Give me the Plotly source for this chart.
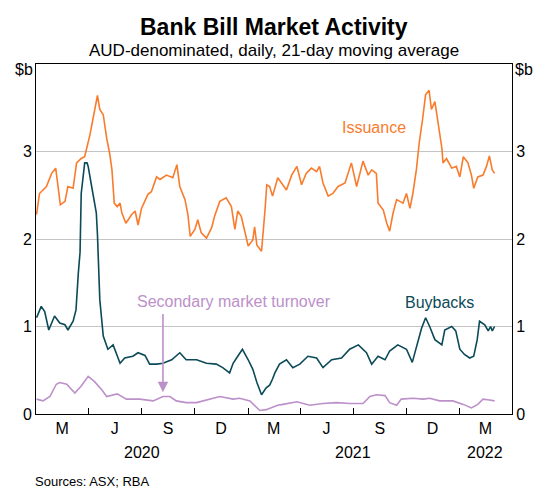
import plotly.graph_objects as go

# ---------------- data ----------------
issuance_dates = [
    "2020-01-02", "2020-01-07", "2020-01-19", "2020-01-28", "2020-02-04", "2020-02-08", "2020-02-12",
    "2020-02-20", "2020-02-25", "2020-03-05", "2020-03-11", "2020-03-19", "2020-03-25", "2020-04-03",
    "2020-04-08", "2020-04-16", "2020-04-20", "2020-04-26", "2020-05-02", "2020-05-07", "2020-05-11",
    "2020-05-15", "2020-05-20", "2020-05-25", "2020-05-28", "2020-06-04", "2020-06-14", "2020-06-20",
    "2020-06-25", "2020-07-01", "2020-07-12", "2020-07-18", "2020-07-27", "2020-08-02", "2020-08-13",
    "2020-08-24", "2020-08-31", "2020-09-05", "2020-09-14", "2020-09-19", "2020-09-23", "2020-10-01",
    "2020-10-06", "2020-10-12", "2020-10-21", "2020-10-30", "2020-11-04", "2020-11-13", "2020-11-24",
    "2020-12-03", "2020-12-09", "2020-12-14", "2020-12-20", "2021-01-01", "2021-01-09", "2021-01-12",
    "2021-01-16", "2021-01-24", "2021-01-30", "2021-02-02", "2021-02-07", "2021-02-12", "2021-02-21",
    "2021-03-08", "2021-03-17", "2021-03-26", "2021-04-03", "2021-04-11", "2021-04-20", "2021-04-29",
    "2021-05-04", "2021-05-10", "2021-05-19", "2021-05-27", "2021-06-05", "2021-06-17", "2021-06-28",
    "2021-07-07", "2021-07-18", "2021-07-27", "2021-08-02", "2021-08-10", "2021-08-13", "2021-08-22",
    "2021-08-28", "2021-09-02", "2021-09-08", "2021-09-14", "2021-09-25", "2021-10-01", "2021-10-07",
    "2021-10-12", "2021-10-18", "2021-10-23", "2021-10-29", "2021-11-03", "2021-11-09", "2021-11-13",
    "2021-11-19", "2021-11-25", "2021-12-01", "2021-12-03", "2021-12-09", "2021-12-18", "2021-12-26",
    "2022-01-01", "2022-01-07", "2022-01-15", "2022-01-21", "2022-01-25", "2022-02-01", "2022-02-10",
    "2022-02-16", "2022-02-21", "2022-02-26", "2022-03-02",
]
issuance_values = [
    2.28, 2.52, 2.60, 2.75, 2.81, 2.56, 2.39,
    2.43, 2.60, 2.58, 2.87, 2.92, 2.94, 3.19,
    3.36, 3.64, 3.48, 3.42, 3.15, 2.98, 2.79,
    2.41, 2.37, 2.41, 2.30, 2.18, 2.28, 2.32,
    2.16, 2.35, 2.51, 2.54, 2.71, 2.68, 2.73,
    2.70, 2.85, 2.60, 2.45, 2.28, 2.03, 2.11,
    2.22, 2.07, 2.01, 2.13, 2.26, 2.43, 2.47,
    2.37, 2.11, 2.32, 2.26, 1.92, 1.99, 2.14,
    1.93, 1.86, 2.33, 2.62, 2.60, 2.49, 2.70,
    2.56, 2.73, 2.83, 2.62, 2.75, 2.81, 2.77,
    2.83, 2.64, 2.49, 2.52, 2.60, 2.64, 2.87,
    2.60, 2.89, 2.73, 2.79, 2.75, 2.41, 2.33,
    2.18, 2.09, 2.30, 2.45, 2.41, 2.52, 2.35,
    2.52, 2.79, 3.10, 3.38, 3.65, 3.70, 3.48,
    3.57, 3.32, 3.04, 2.87, 2.92, 2.81, 2.83,
    2.71, 2.94, 2.87, 2.73, 2.58, 2.71, 2.73,
    2.83, 2.95, 2.79, 2.75,
]

buyback_dates = [
    "2020-01-02", "2020-01-10", "2020-01-16", "2020-01-23", "2020-02-02", "2020-02-11", "2020-02-20",
    "2020-02-25", "2020-03-05", "2020-03-10", "2020-03-14", "2020-03-17", "2020-03-19", "2020-03-25",
    "2020-03-29", "2020-03-31", "2020-04-06", "2020-04-14", "2020-04-16", "2020-04-18", "2020-04-20",
    "2020-04-26", "2020-05-04", "2020-05-13", "2020-05-20", "2020-05-25", "2020-06-02", "2020-06-16",
    "2020-06-25", "2020-07-07", "2020-07-15", "2020-07-27", "2020-08-07", "2020-08-22", "2020-09-05",
    "2020-09-16", "2020-10-04", "2020-10-21", "2020-11-07", "2020-11-18", "2020-11-30", "2020-12-06",
    "2020-12-14", "2020-12-22", "2021-01-01", "2021-01-09", "2021-01-16", "2021-01-24", "2021-02-01",
    "2021-02-07", "2021-02-12", "2021-02-16", "2021-02-24", "2021-03-08", "2021-03-19", "2021-03-31",
    "2021-04-14", "2021-04-29", "2021-05-10", "2021-05-25", "2021-06-11", "2021-06-25", "2021-07-10",
    "2021-07-24", "2021-08-02", "2021-08-13", "2021-08-25", "2021-09-02", "2021-09-16", "2021-10-01",
    "2021-10-11", "2021-10-18", "2021-10-27", "2021-11-03", "2021-11-10", "2021-11-19", "2021-12-01",
    "2021-12-06", "2021-12-18", "2021-12-25", "2022-01-01", "2022-01-09", "2022-01-18", "2022-01-25",
    "2022-01-31", "2022-02-04", "2022-02-13", "2022-02-19", "2022-02-23", "2022-02-26", "2022-03-02",
]
buyback_values = [
    1.10, 1.23, 1.17, 0.96, 1.12, 1.04, 1.02,
    0.96, 1.06, 1.19, 1.61, 1.85, 2.52, 2.87,
    2.87, 2.83, 2.60, 2.30, 2.05, 1.55, 1.31,
    0.89, 0.74, 0.79, 0.66, 0.58, 0.64, 0.66,
    0.70, 0.67, 0.57, 0.57, 0.58, 0.62, 0.70,
    0.62, 0.62, 0.58, 0.57, 0.53, 0.47, 0.58,
    0.66, 0.74, 0.62, 0.51, 0.36, 0.22, 0.30,
    0.33, 0.40, 0.47, 0.57, 0.62, 0.53, 0.57,
    0.66, 0.64, 0.53, 0.62, 0.64, 0.74, 0.79,
    0.70, 0.57, 0.66, 0.62, 0.72, 0.79, 0.74,
    0.59, 0.76, 0.98, 1.10, 1.00, 0.85, 0.79,
    0.96, 1.00, 0.95, 0.74, 0.68, 0.64, 0.66,
    0.85, 1.06, 1.02, 0.95, 1.00, 0.95, 1.00,
]

turnover_dates = [
    "2020-01-02", "2020-01-13", "2020-01-25", "2020-02-05", "2020-02-11", "2020-02-23", "2020-03-08",
    "2020-03-19", "2020-03-31", "2020-04-11", "2020-04-23", "2020-05-02", "2020-05-20", "2020-06-05",
    "2020-06-28", "2020-07-21", "2020-08-07", "2020-08-19", "2020-08-30", "2020-09-16", "2020-10-04",
    "2020-10-21", "2020-11-13", "2020-12-06", "2020-12-17", "2021-01-04", "2021-01-21", "2021-02-01",
    "2021-02-21", "2021-03-02", "2021-03-26", "2021-04-17", "2021-05-10", "2021-06-02", "2021-06-25",
    "2021-07-18", "2021-07-30", "2021-08-10", "2021-08-25", "2021-09-02", "2021-09-14", "2021-09-22",
    "2021-10-12", "2021-10-30", "2021-11-10", "2021-11-27", "2021-12-20", "2022-01-07", "2022-01-21",
    "2022-02-01", "2022-02-10", "2022-02-21", "2022-03-02",
]
turnover_values = [
    0.17, 0.15, 0.20, 0.34, 0.36, 0.34, 0.24,
    0.32, 0.43, 0.37, 0.28, 0.20, 0.23, 0.17,
    0.17, 0.15, 0.20, 0.20, 0.15, 0.13, 0.13,
    0.16, 0.20, 0.17, 0.18, 0.15, 0.04, 0.05,
    0.10, 0.11, 0.14, 0.10, 0.12, 0.13, 0.12,
    0.12, 0.20, 0.22, 0.21, 0.13, 0.10, 0.17,
    0.18, 0.17, 0.18, 0.15, 0.15, 0.11, 0.07,
    0.11, 0.17, 0.16, 0.15,
]

quarter_boundaries = [
    "2020-04-01", "2020-07-01", "2020-10-01", "2021-01-01",
    "2021-04-01", "2021-07-01", "2021-10-01", "2022-01-01",
]
quarter_mids = [
    "2020-02-15", "2020-05-16", "2020-08-16", "2020-11-15",
    "2021-02-14", "2021-05-16", "2021-08-16", "2021-11-15", "2022-02-14",
]
quarter_labels = ["M", "J", "S", "D", "M", "J", "S", "D", "M"]
year_positions = ["2020-07-01", "2021-07-01", "2022-02-14"]
year_labels = ["2020", "2021", "2022"]
y_tickvals = [0, 1, 2, 3]
y_ticktext = ["0", "1", "2", "3"]

# ---------------- styles ----------------
ORANGE = "#F97B2C"
TEAL = "#0B4A57"
PURPLE = "#BC90C9"
FONT = "Liberation Sans, Arial, sans-serif"

fig = go.Figure()
fig.add_trace(go.Scatter(x=issuance_dates, y=issuance_values, mode="lines",
                         line=dict(color=ORANGE, width=1.6), name="Issuance"))
fig.add_trace(go.Scatter(x=turnover_dates, y=turnover_values, mode="lines",
                         line=dict(color=PURPLE, width=1.6), name="Secondary market turnover"))
fig.add_trace(go.Scatter(x=buyback_dates, y=buyback_values, mode="lines",
                         line=dict(color=TEAL, width=1.6), name="Buybacks"))
# invisible trace for right axis
fig.add_trace(go.Scatter(x=[issuance_dates[0]], y=[0], yaxis="y2", mode="markers",
                         marker=dict(opacity=0), showlegend=False, hoverinfo="skip"))

fig.update_layout(
    width=542, height=491,
    margin=dict(l=36, r=30, t=64, b=77, autoexpand=False),
    paper_bgcolor="white", plot_bgcolor="white",
    showlegend=False,
    font=dict(family=FONT, size=16, color="black"),
    xaxis=dict(
        type="date", range=["2020-01-01", "2022-04-01"], automargin=False,
        tickmode="array", tickvals=quarter_mids, ticktext=quarter_labels,
        ticks="", showgrid=False, zeroline=False,
        showline=True, linecolor="black", linewidth=1, mirror=True,
        tickfont=dict(size=16),
        minor=dict(tickmode="array", tickvals=quarter_boundaries, ticks="inside",
                   ticklen=6, tickcolor="black", tickwidth=1, showgrid=False),
    ),
    yaxis=dict(
        range=[0, 4], tickmode="array", tickvals=y_tickvals, ticktext=y_ticktext,
        showgrid=True, gridcolor="#C4C4C4", gridwidth=1, zeroline=False, automargin=False,
        showline=True, linecolor="black", linewidth=1, ticks="",
        tickfont=dict(size=16),
    ),
    yaxis2=dict(
        range=[0, 4], overlaying="y", side="right", tickmode="array", automargin=False,
        tickvals=y_tickvals, ticktext=y_ticktext, showgrid=False, zeroline=False,
        showline=True, linecolor="black", linewidth=1, ticks="",
        tickfont=dict(size=16),
    ),
)

annotations = [
    dict(text="<b>Bank Bill Market Activity</b>", x=0.5, y=1.105, xref="paper", yref="paper",
         showarrow=False, font=dict(size=23), xanchor="center", yanchor="middle"),
    dict(text="AUD-denominated, daily, 21-day moving average", x=0.5, y=1.039, xref="paper",
         yref="paper", showarrow=False, font=dict(size=17), xanchor="center", yanchor="middle"),
    dict(text="$b", x=0, y=0.984, xref="paper", yref="paper", showarrow=False,
         xanchor="right", yanchor="middle", xshift=-1, font=dict(size=16)),
    dict(text="$b", x=1, y=0.984, xref="paper", yref="paper", showarrow=False,
         xanchor="left", yanchor="middle", xshift=1, font=dict(size=16)),
    dict(text="Sources: ASX; RBA", x=0, y=-0.193, xref="paper", yref="paper", showarrow=False,
         xanchor="left", yanchor="middle", xshift=-3, font=dict(size=13)),
    dict(text="Issuance", x="2021-08-06", y=3.27, xref="x", yref="y", showarrow=False,
         font=dict(size=16, color=ORANGE), xanchor="center", yanchor="middle"),
    dict(text="Buybacks", x="2021-11-27", y=1.27, xref="x", yref="y", showarrow=False,
         font=dict(size=16, color=TEAL), xanchor="center", yanchor="middle"),
    dict(text="Secondary market turnover", x="2020-12-07", y=1.29, xref="x", yref="y",
         showarrow=False, font=dict(size=16, color=PURPLE), xanchor="center", yanchor="middle"),
    dict(text="", x="2020-08-07", y=0.25, ax="2020-08-07", ay=1.16, xref="x", yref="y",
         axref="x", ayref="y", showarrow=True, arrowhead=2, arrowsize=1.3, arrowwidth=1.6,
         arrowcolor=PURPLE),
]
for pos, lab in zip(year_positions, year_labels):
    annotations.append(dict(text=lab, x=pos, y=-0.11, xref="x", yref="paper", showarrow=False,
                            xanchor="center", yanchor="middle", font=dict(size=16)))
fig.update_layout(annotations=annotations)

fig.write_html("out.html", config={"displayModeBar": False},
               post_script="document.body.style.margin='0';document.body.style.padding='0';")
